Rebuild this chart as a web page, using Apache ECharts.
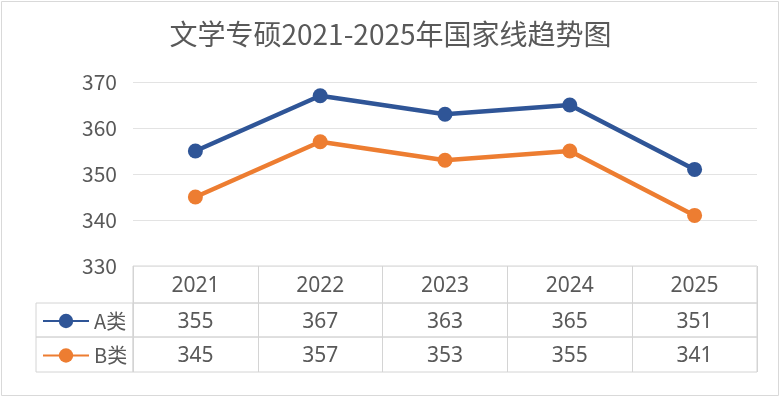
<!DOCTYPE html>
<html>
<head>
<meta charset="utf-8">
<script src="https://cdn.jsdelivr.net/npm/echarts@6/dist/echarts.min.js"></script>
<style>
  html, body { margin: 0; padding: 0; background: #fff; }
  #chart { width: 781px; height: 398px; }
</style>
</head>
<body>
<div id="chart"></div>
<script>
// 数据
const years = ["2021", "2022", "2023", "2024", "2025"];
const seriesNames = ["A类", "B类"];
const aValues = [355, 367, 363, 365, 351];
const bValues = [345, 357, 353, 355, 341];
const yTicks = [330, 340, 350, 360, 370];

const textColor = "#595959";
const borderColor = "#d4d4d4";
const colors = ["#2f5597", "#ed7d31"];

const L = 133, R = 24;
// 表格行：表头、A类、B类
const rows = [
  { top: 266, height: 37, values: years },
  { top: 303, height: 34, values: aValues },
  { top: 337, height: 35, values: bValues }
];

const myChart = echarts.init(document.getElementById("chart"));

const grids = [{ left: L, right: R, top: 82, height: 184 }];
const xAxes = [{ type: "category", data: years, gridIndex: 0, show: false, boundaryGap: true }];
const yAxes = [{
  type: "value",
  gridIndex: 0,
  min: yTicks[0],
  max: yTicks[yTicks.length - 1],
  interval: 10,
  axisLine: { show: false },
  axisTick: { show: false },
  axisLabel: { color: textColor, fontSize: 21, margin: 16, fontFamily: "Noto Sans CJK SC" },
  splitLine: { lineStyle: { color: "#e3e3e3", width: 1 } }
}];

rows.forEach((row, i) => {
  grids.push({
    left: L, right: R, top: row.top, height: row.height,
    show: true, borderColor: borderColor, borderWidth: 1, backgroundColor: "transparent"
  });
  xAxes.push({
    type: "category",
    data: years,
    gridIndex: i + 1,
    boundaryGap: true,
    axisLine: { show: false },
    axisTick: { show: false },
    splitLine: { show: true, interval: 0, lineStyle: { color: borderColor, width: 1 } },
    axisLabel: {
      inside: true,
      interval: 0,
      margin: row.height / 2 - 2,
      verticalAlign: "middle",
      color: textColor,
      fontSize: 21,
      fontFamily: "Noto Sans",
      formatter: (v, idx) => String(row.values[idx])
    }
  });
  yAxes.push({ type: "value", gridIndex: i + 1, show: false, splitLine: { show: false } });
});

const option = {
  animation: false,
  title: {
    text: "文学专硕2021-2025年国家线趋势图",
    left: "center",
    top: 15,
    textStyle: { color: textColor, fontSize: 28, fontWeight: "normal", fontFamily: "Noto Sans CJK SC" }
  },
  legend: seriesNames.map((name, i) => ({
    data: [name],
    left: 42,
    top: rows[i + 1].top + rows[i + 1].height / 2 - 9,
    padding: 0,
    itemWidth: 46,
    itemHeight: 18,
    itemGap: 5,
    selectedMode: false,
    textStyle: { color: textColor, fontSize: 20, fontFamily: "Noto Sans CJK SC" }
  })),
  grid: grids,
  xAxis: xAxes,
  yAxis: yAxes,
  graphic: [
    {
      type: "rect",
      shape: { x: 1.5, y: 1.5, width: 777, height: 394 },
      style: { fill: "none", stroke: "#d9d9d9", lineWidth: 1 },
      silent: true
    },
    {
      type: "rect",
      shape: { x: 36, y: 303, width: L - 36, height: 34 },
      style: { fill: "none", stroke: borderColor, lineWidth: 1 },
      silent: true
    },
    {
      type: "rect",
      shape: { x: 36, y: 337, width: L - 36, height: 35 },
      style: { fill: "none", stroke: borderColor, lineWidth: 1 },
      silent: true
    }
  ],
  series: [
    {
      name: seriesNames[0],
      type: "line",
      data: aValues,
      xAxisIndex: 0,
      yAxisIndex: 0,
      symbol: "circle",
      symbolSize: 15,
      color: colors[0],
      lineStyle: { width: 4.5 }
    },
    {
      name: seriesNames[1],
      type: "line",
      data: bValues,
      xAxisIndex: 0,
      yAxisIndex: 0,
      symbol: "circle",
      symbolSize: 15,
      color: colors[1],
      lineStyle: { width: 4.5 }
    }
  ]
};

option && myChart.setOption(option);
</script>
</body>
</html>
